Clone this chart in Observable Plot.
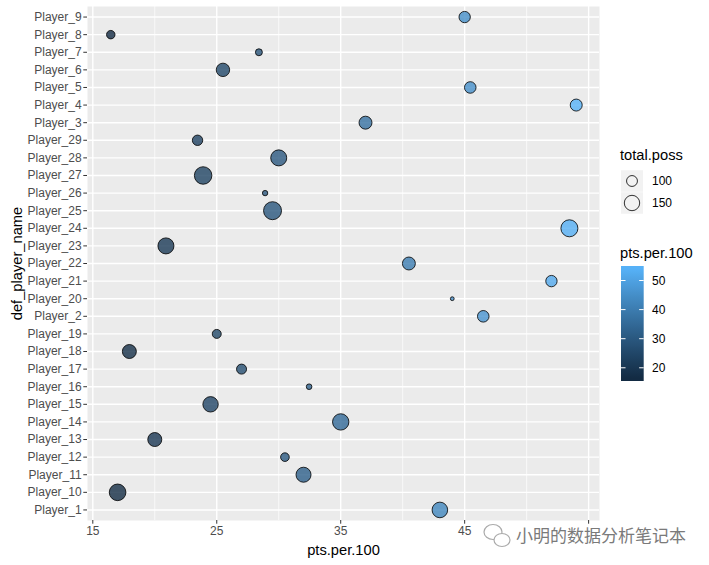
<!DOCTYPE html>
<html><head><meta charset="utf-8">
<script src="https://cdn.jsdelivr.net/npm/d3@7"></script>
<script src="https://cdn.jsdelivr.net/npm/@observablehq/plot@0.6"></script>
<style>
body{margin:0;background:#fff;}
#chart svg{font-family:"Liberation Sans",Arial,sans-serif;}
#chart [aria-label="x-axis tick"], #chart [aria-label="y-axis tick"]{stroke:#333333;}
#chart [aria-label="x-axis tick label"], #chart [aria-label="y-axis tick label"]{fill:#4D4D4D;font-size:12px;}
#chart [aria-label="x-axis label"], #chart [aria-label="y-axis label"]{fill:#000;font-size:14.7px;}
</style></head><body><div id="chart"></div><script>
const players = ["Player_1","Player_10","Player_11","Player_12","Player_13","Player_14","Player_15","Player_16","Player_17","Player_18","Player_19","Player_2","Player_20","Player_21","Player_22","Player_23","Player_24","Player_25","Player_26","Player_27","Player_28","Player_29","Player_3","Player_4","Player_5","Player_6","Player_7","Player_8","Player_9"];
const ptsPer100 = [43.0,17.0,32.0,30.5,20.0,35.0,24.5,32.45,27.0,17.95,25.0,46.5,44.0,52.0,40.5,20.9,53.45,29.5,28.9,23.9,30.0,23.45,37.0,54.0,45.45,25.5,28.4,16.45,45.0];
const totalPoss = [153,168,145,84,132,164,150,72,93,132,86,106,70,104,120,159,174,190,71.5,182,159,96,120,110,106,125,76,83,104];
const xTicks = [15,25,35,45,55];
// the "55" label is hidden under the watermark in the reference
const xTickLabels = ["15","25","35","45",""];
const xMinorTicks = [20,30,40,50];
const colorTicks = [20,30,40,50];
const sizeBreaks = [100,150];

const data = players.map((p,i)=>({player:p, pts:ptsPer100[i], poss:totalPoss[i]}));
const yOrder = d3.sort(players).reverse();
const [xMin,xMax] = d3.extent(ptsPer100);
const xPad = (xMax-xMin)*0.05;
const [possMin,possMax] = d3.extent(totalPoss);
const sizeVal = v => Math.sqrt(Math.max(0, v - possMin));

const plot = Plot.plot({
  width: 709, height: 565,
  marginLeft: 87, marginRight: 110, marginTop: 6, marginBottom: 45,
  x: {domain: [xMin - xPad, xMax + xPad]},
  y: {type: "point", domain: yOrder, padding: 0.6, round: false},
  r: {type: "linear", domain: [0, Math.sqrt(possMax - possMin)], range: [1.9, 9]},
  color: {type: "linear", range: ["#132B43","#56B1F7"], interpolate: "lab"},
  marks: [
    Plot.frame({fill: "#EBEBEB", stroke: null}),
    Plot.gridX({ticks: xMinorTicks, stroke: "white", strokeOpacity: 1, strokeWidth: 0.7}),
    Plot.gridX({ticks: xTicks, stroke: "white", strokeOpacity: 1, strokeWidth: 1.4}),
    Plot.gridY({stroke: "white", strokeOpacity: 1, strokeWidth: 1.4}),
    Plot.axisX({ticks: xTicks, tickFormat: v => xTickLabels[xTicks.indexOf(v)], tickSize: 3.7, tickPadding: 2.5, label: "pts.per.100", labelArrow: false, labelAnchor: "center", labelOffset: 34}),
    Plot.axisY({tickSize: 3.7, tickPadding: 2.2, label: "def_player_name", labelArrow: false, labelAnchor: "center", labelOffset: 76}),
    Plot.dot(data, {x: "pts", y: "player", r: d => sizeVal(d.poss), fill: "pts", fillOpacity: 0.8, stroke: "black", strokeOpacity: 0.8, strokeWidth: 1, sort: null})
  ]
});
document.getElementById("chart").appendChild(plot);

// Legends
const rScale = plot.scale("r");
const cScale = plot.scale("color");
const svg = d3.select(plot);
const g = svg.append("g").attr("font-family", "Liberation Sans, Arial, sans-serif").attr("text-anchor", "start");
g.append("text").attr("x", 620).attr("y", 160).attr("font-size", 14.7).attr("fill", "#000").text("total.poss");
sizeBreaks.forEach((b, i) => {
  const cy = 181 + i * 22;
  g.append("rect").attr("x", 621).attr("y", cy - 10.75).attr("width", 22).attr("height", 21.5).attr("fill", "#F2F2F2");
  g.append("circle").attr("cx", 632).attr("cy", cy).attr("r", rScale.apply(sizeVal(b)))
    .attr("fill", "none").attr("stroke", "black").attr("stroke-opacity", 0.8).attr("stroke-width", 1);
  g.append("text").attr("x", 652).attr("y", cy).attr("dy", "0.35em").attr("font-size", 12).attr("fill", "#000").text(b);
});

g.append("text").attr("x", 620).attr("y", 258).attr("font-size", 14.7).attr("fill", "#000").text("pts.per.100");
const [cMin, cMax] = cScale.domain;
const ext = (cMax - cMin) * 0.025 / 0.95;
const barLo = cMin - ext, barHi = cMax + ext;
const barTop = 266, barH = 115, barX = 621, barW = 22.7;
const barY = v => barTop + barH * (barHi - v) / (barHi - barLo);
const defs = svg.append("defs");
const grad = defs.append("linearGradient").attr("id", "cbar").attr("x1", 0).attr("x2", 0).attr("y1", 1).attr("y2", 0);
grad.append("stop").attr("offset", 0).attr("stop-color", cScale.apply(cMin));
d3.range(0, 21).forEach(k => {
  const v = cMin + (cMax - cMin) * k / 20;
  grad.append("stop").attr("offset", (v - barLo) / (barHi - barLo)).attr("stop-color", cScale.apply(v));
});
grad.append("stop").attr("offset", 1).attr("stop-color", cScale.apply(cMax));
g.append("rect").attr("x", barX).attr("y", barTop).attr("width", barW).attr("height", barH).attr("fill", "url(#cbar)");
colorTicks.forEach(t => {
  const y = barY(t);
  g.append("line").attr("x1", barX).attr("x2", barX + barW / 5).attr("y1", y).attr("y2", y).attr("stroke", "white").attr("stroke-width", 1);
  g.append("line").attr("x1", barX + barW * 4 / 5).attr("x2", barX + barW).attr("y1", y).attr("y2", y).attr("stroke", "white").attr("stroke-width", 1);
  g.append("text").attr("x", 652).attr("y", y).attr("dy", "0.35em").attr("font-size", 12).attr("fill", "#000").text(t);
});

// Watermark
const wm = svg.append("g").attr("text-anchor", "start");
wm.append("ellipse").attr("cx", 493).attr("cy", 532).attr("rx", 9).attr("ry", 7.5).attr("fill", "white").attr("stroke", "#aaa").attr("stroke-width", 1.2);
wm.append("ellipse").attr("cx", 502).attr("cy", 540).attr("rx", 8).attr("ry", 6.5).attr("fill", "white").attr("stroke", "#aaa").attr("stroke-width", 1.2);
wm.append("text").attr("x", 516).attr("y", 542).attr("font-family", "Noto Sans CJK SC, sans-serif").attr("font-size", 17).attr("fill", "#7a7a7a").text("小明的数据分析笔记本");
</script></body></html>
